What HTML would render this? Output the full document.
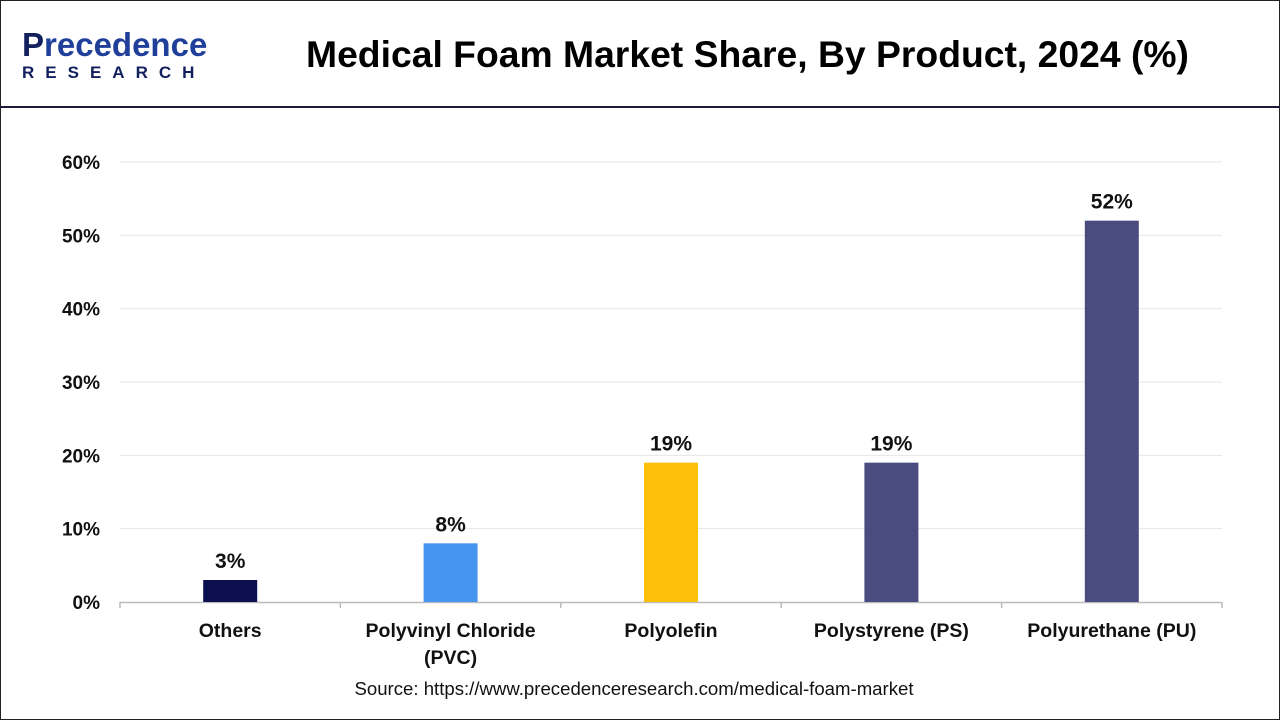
<!DOCTYPE html>
<html><head><meta charset="utf-8"><style>
body{margin:0;width:1280px;height:720px;background:#fff;font-family:"Liberation Sans",Arial,sans-serif;overflow:hidden}
.frame{position:absolute;left:0;top:0;width:1278px;height:718px;border:1px solid #222}
.hdr{position:absolute;left:0;top:0;width:1280px;height:106px;border-bottom:2px solid #1a1a3a}
</style></head><body>
<div class="frame"></div>
<div class="hdr">
 <div style="position:absolute;left:22px;top:28px;">
  <div style="font-size:33px;color:#1f3f9a;font-weight:bold;line-height:34px"><span style="color:#12205e">P</span>recedence</div>
  <div style="font-size:17px;color:#12205e;font-weight:bold;letter-spacing:11px;margin-top:1px">RESEARCH</div>
 </div>
 <div style="position:absolute;left:306px;top:33px;font-size:37.3px;font-weight:bold;color:#000;white-space:nowrap">Medical Foam Market Share, By Product, 2024 (%)</div>
</div>
<svg id="c" width="1280" height="720" style="position:absolute;left:0;top:0"></svg>
<div style="position:absolute;left:0;width:1268px;top:678px;text-align:center;font-size:18.6px;color:#111">Source: https://www.precedenceresearch.com/medical-foam-market</div>
<script>
const categories=["Others","Polyvinyl Chloride|(PVC)","Polyolefin","Polystyrene (PS)","Polyurethane (PU)"];
const values=[3,8,19,19,52];
const colors=["#0b0f4e","#4695ee","#fdbf0a","#4a4c80","#4a4c80"];
const ticks=[0,10,20,30,40,50,60];
const svg=document.getElementById('c');const NS="http://www.w3.org/2000/svg";
const x0=120,x1=1222,y0=602,ppu=(602-162)/60;
const y=v=>y0-v*ppu;const bw=(x1-x0)/categories.length;const xc=i=>x0+bw*(i+0.5);
function mk(t,a,txt){const e=document.createElementNS(NS,t);for(const k in a)e.setAttribute(k,a[k]);if(txt!=null)e.textContent=txt;svg.appendChild(e);return e;}
ticks.forEach(t=>{
 if(t>0){const g=mk('line',{x1:x0,x2:x1,y1:y(t),y2:y(t),stroke:'#e6e6e6','stroke-width':1});
 
 }
 const l=mk('text',{x:100,y:y(t)+7,'text-anchor':'end','font-size':19,'font-weight':'bold',fill:'#111'},t+'%');
 
 
});
const ax=mk('line',{x1:x0,x2:x1,y1:y0+0.5,y2:y0+0.5,stroke:'#bbb','stroke-width':1.5});


for(let i=0;i<=categories.length;i++){const tk=mk('line',{x1:x0+bw*i,x2:x0+bw*i,y1:y0,y2:y0+6,stroke:'#bbb','stroke-width':1.5});
 
 }
values.forEach((v,i)=>{
 const r=mk('rect',{x:xc(i)-27,y:y(v),width:54,height:v*ppu,fill:colors[i]});
 
 
 const t=mk('text',{x:xc(i),y:y(v)-12,'text-anchor':'middle','font-size':21,'font-weight':'bold',fill:'#111'},v+'%');
 
 
 categories[i].split('|').forEach((s,j)=>{
  const c=mk('text',{x:xc(i),y:637+j*27,'text-anchor':'middle','font-size':19.5,'font-weight':'bold',fill:'#111'},s);
  
  
 });
});
</script>
</body></html>
